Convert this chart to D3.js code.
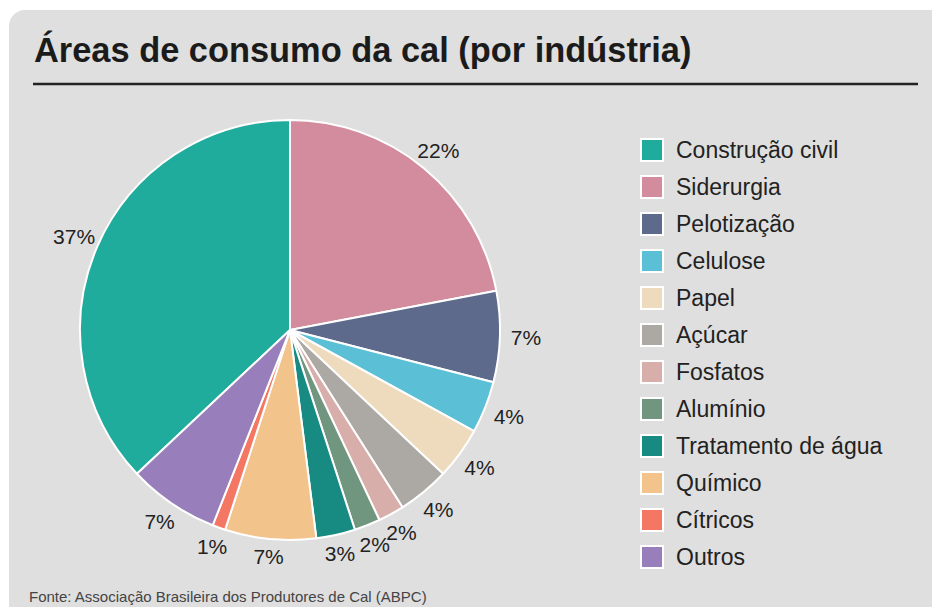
<!DOCTYPE html>
<html>
<head>
<meta charset="utf-8">
<script src="https://cdn.jsdelivr.net/npm/d3@7"></script>
<style>
  html, body { margin: 0; padding: 0; background: #ffffff; }
  svg { display: block; font-family: "Liberation Sans", Arial, Helvetica, sans-serif; }
</style>
</head>
<body>
<svg id="chart" width="932" height="607"></svg>
<script>
// Consumo de cal por indústria (%)
const categories = [
  "Construção civil", "Siderurgia", "Pelotização", "Celulose", "Papel", "Açúcar",
  "Fosfatos", "Alumínio", "Tratamento de água", "Químico", "Cítricos", "Outros"
];
const shares = [37, 22, 7, 4, 4, 4, 2, 2, 3, 7, 1, 7];
const colors = [
  "#1fac9c", "#d38c9e", "#5d6a8c", "#5bbfd6", "#eedbbd", "#aca8a4",
  "#d8aeab", "#71967f", "#178b82", "#f2c38a", "#f47764", "#987fbb"
];
const title = "Áreas de consumo da cal (por indústria)";
const source = "Fonte: Associação Brasileira dos Produtores de Cal (ABPC)";

const data = categories.map((c, i) => ({ name: c, value: shares[i] }));
const total = d3.sum(shares);

const svg = d3.select("#chart");

// painel de fundo
svg.append("rect")
  .attr("x", 9).attr("y", 10)
  .attr("width", 945).attr("height", 615)
  .attr("rx", 16).attr("ry", 16)
  .attr("fill", "#dfdfdf");

// título e filete
svg.append("text")
  .attr("x", 34).attr("y", 62)
  .attr("font-size", 34.4).attr("font-weight", "bold")
  .attr("fill", "#1b1b1b")
  .text(title);

svg.append("line")
  .attr("x1", 33).attr("x2", 918)
  .attr("y1", 84).attr("y2", 84)
  .attr("stroke", "#222").attr("stroke-width", 2.5);

// pizza
const cx = 290, cy = 330, R = 210;
const color = d3.scaleOrdinal().domain(categories).range(colors);

// a primeira fatia (Construção civil) termina no topo; as demais seguem no sentido horário
const start = -2 * Math.PI * shares[0] / total;
const pie = d3.pie().value(d => d.value).sort(null)
  .startAngle(start).endAngle(start + 2 * Math.PI);
const arcs = pie(data);
const arc = d3.arc().innerRadius(0).outerRadius(R);

const g = svg.append("g").attr("transform", `translate(${cx},${cy})`);
g.selectAll("path.slice")
  .data(arcs)
  .join("path")
  .attr("class", "slice")
  .attr("d", arc)
  .attr("fill", d => color(d.data.name))
  .attr("stroke", "#ffffff")
  .attr("stroke-width", 2)
  .attr("stroke-linejoin", "round");

// rótulos de porcentagem fora da pizza
g.selectAll("text.pct")
  .data(arcs)
  .join("text")
  .attr("class", "pct")
  .attr("transform", d => {
    const a = (d.startAngle + d.endAngle) / 2;
    const r = 227 + 9 * Math.abs(Math.sin(a));
    return `translate(${r * Math.sin(a)},${-r * Math.cos(a)})`;
  })
  .attr("text-anchor", "middle")
  .attr("dy", "0.36em")
  .attr("font-size", 21)
  .attr("fill", "#222")
  .text(d => d.data.value + "%");

// legenda
const ly = d3.scalePoint().domain(categories).range([150, 557]);
const leg = svg.append("g");
const items = leg.selectAll("g.item")
  .data(categories)
  .join("g")
  .attr("class", "item")
  .attr("transform", d => `translate(0,${ly(d)})`);

items.append("rect")
  .attr("x", 641).attr("y", -11)
  .attr("width", 22).attr("height", 22)
  .attr("fill", d => color(d))
  .attr("stroke", "#ffffff").attr("stroke-width", 2);

items.append("text")
  .attr("x", 676).attr("y", 0)
  .attr("dy", "0.36em")
  .attr("font-size", 23)
  .attr("fill", "#222")
  .text(d => d);

// fonte
svg.append("text")
  .attr("x", 29).attr("y", 602)
  .attr("font-size", 15)
  .attr("fill", "#444")
  .text(source);
</script>
</body>
</html>
